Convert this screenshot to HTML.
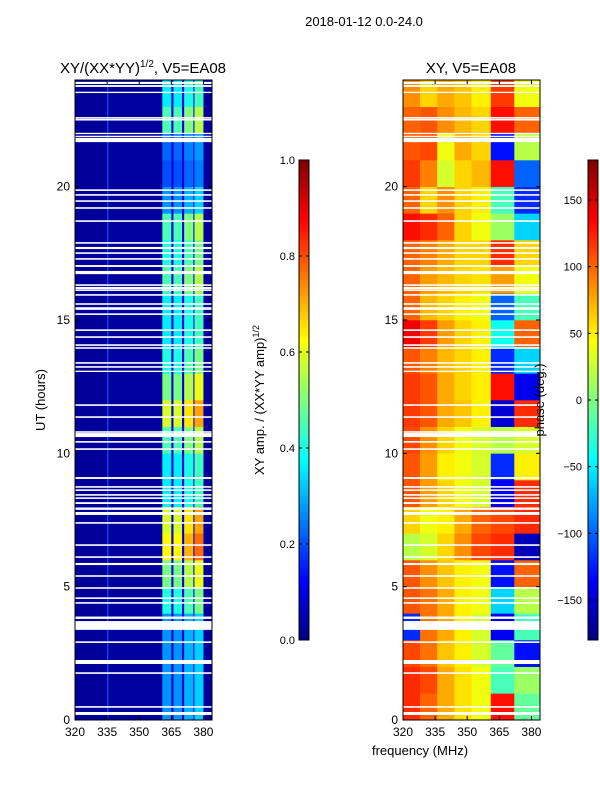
<!DOCTYPE html>
<html><head><meta charset="utf-8"><style>
body{margin:0;background:#fff;}
svg{display:block;font-family:"Liberation Sans",sans-serif;}
</style></head><body>
<svg id="fig" width="600" height="800">
<text x="364" y="26" font-size="13" text-anchor="middle">2018-01-12 0.0-24.0</text>
<text x="143" y="73" font-size="15" text-anchor="middle">XY/(XX*YY)<tspan font-size="10" dy="-6">1/2</tspan><tspan dy="6">, V5=EA08</tspan></text>
<text x="471" y="73" font-size="15" text-anchor="middle">XY, V5=EA08</text>
<text transform="translate(45,400) rotate(-90)" font-size="13" text-anchor="middle">UT (hours)</text>
<text x="420" y="755" font-size="13" text-anchor="middle">frequency (MHz)</text>
<text transform="translate(264,400) rotate(-90)" font-size="13" text-anchor="middle">XY amp. / (XX*YY amp)<tspan font-size="9" dy="-5">1/2</tspan></text>
<g id="leftPanel"></g>
<g id="rightPanel"></g>
<g id="cbars"></g>
<text transform="translate(544,400) rotate(-90)" font-size="13" text-anchor="middle">phase (deg.)</text>
</svg>
<script>
const hours = [0,1,2,3,4,5,6,7,8,9,10,11,12,13,14,15,16,17,18,19,20,21,22,23];
const ampColEdges = [320,335,335.6,360.8,365,366,370,371,375.3,375.8,380,384];
const ampColBase = [0.025,0.2,0.03,0.45,0.1,0.45,0.1,0.5,0.12,0.55,0.03];
const ampColIsBand = [0,0,0,1,0,1,0,1,0,1,0];
const ampRowFactor = [0.6,0.6,0.6,0.6,0.9,1.1,1.4,1.3,0.8,0.8,1.0,1.3,1.1,0.9,0.8,0.8,1.0,0.9,1.0,0.6,0.45,0.5,1.0,0.8];
const phaseColEdges = [320,328,336,344,352,361,372,384];
const phaseRows = [
[120,100,75,55,40,130,-10],
[120,110,75,55,40,-20,10],
[110,95,65,50,30,-10,-130],
[-120,95,75,50,30,-140,-20],
[105,95,75,50,40,-60,20],
[105,85,65,50,40,-130,100],
[20,30,60,85,110,120,-160],
[60,40,50,75,100,110,120],
[105,80,60,40,30,-140,120],
[105,80,50,40,30,-120,50],
[110,85,60,40,30,20,30],
[115,105,75,65,50,-150,120],
[115,105,75,60,50,130,-140],
[105,90,70,60,50,-120,-60],
[140,115,80,60,50,-40,100],
[100,70,60,50,40,-100,-20],
[100,80,70,60,55,80,40],
[100,90,75,60,60,120,60],
[130,120,100,60,40,10,-60],
[100,60,85,60,50,-20,-120],
[115,90,30,60,70,130,-100],
[105,110,40,75,60,-130,20],
[100,105,85,70,60,130,100],
[85,60,75,65,50,115,40]];
const gapStart = [23.85,23.74,23.51,22.55,22.48,21.97,21.86,21.67,19.84,19.66,19.43,19.17,18.68,17.86,17.66,17.48,17.26,16.99,16.72,16.28,16.16,16.09,15.91,15.57,15.42,15.38,15.19,14.59,14.33,14.03,13.92,13.36,13.21,13.05,11.78,11.33,10.77,10.61,10.4,10.13,9.04,8.71,8.59,8.41,8.29,8.1,7.92,7.88,7.69,7.36,6.53,6.08,5.81,5.37,4.92,4.54,4.36,3.83,3.79,3.38,2.89,2.1,1.73,0.46,0.19];
const gapLen = [0.08,0.07,0.05,0.06,0.06,0.05,0.05,0.16,0.06,0.06,0.06,0.06,0.06,0.06,0.08,0.06,0.06,0.07,0.12,0.06,0.08,0.06,0.06,0.06,0.06,0.06,0.06,0.06,0.06,0.06,0.06,0.06,0.06,0.05,0.06,0.06,0.06,0.15,0.06,0.06,0.07,0.06,0.06,0.06,0.06,0.07,0.05,0.05,0.11,0.06,0.06,0.06,0.08,0.06,0.06,0.06,0.06,0.05,0.05,0.33,0.06,0.15,0.06,0.06,0.11];
const xTicks = [320,335,350,365,380];
const yTicks = [0,5,10,15,20];
const ampTicks = [0.0,0.2,0.4,0.6,0.8,1.0];
const phaseTicks = [-150,-100,-50,0,50,100,150];

const NS="http://www.w3.org/2000/svg";
function jet(v){v=Math.max(0,Math.min(1,v));
 const c=t=>Math.round(255*Math.max(0,Math.min(1,1.5-Math.abs(t))));
 return `rgb(${c(4*v-3)},${c(4*v-2)},${c(4*v-1)})`;}
function mk(tag,attrs,parent){const e=document.createElementNS(NS,tag);for(const k in attrs)e.setAttribute(k,attrs[k]);parent.appendChild(e);return e;}
const yS=h=>720-h*(640/24);
function xS(x0){return f=>x0+(f-320)*(137/64);}

function drawPanel(g,x0,fill){
  const xs=xS(x0);
  fill(xs);
  for(let i=0;i<gapStart.length;i++){
    const r=mk('rect',{x:x0,y:yS(gapStart[i]+gapLen[i]),width:137,height:Math.max(1,gapLen[i]*640/24),fill:'#fff'},g);
    
    
  }
  mk('rect',{x:x0,y:80,width:137,height:640,fill:'none',stroke:'#000','stroke-width':1},g);
  xTicks.forEach(t=>{const x=xs(t);
    mk('line',{x1:x,x2:x,y1:720,y2:716,stroke:'#000'},g);
    mk('line',{x1:x,x2:x,y1:80,y2:84,stroke:'#000'},g);
    const tx=mk('text',{x:x,y:736,'font-size':12,'text-anchor':'middle'},g);tx.textContent=t;
    
    });
  yTicks.forEach(t=>{const y=yS(t);
    mk('line',{x1:x0,x2:x0+4,y1:y,y2:y,stroke:'#000'},g);
    mk('line',{x1:x0+137,x2:x0+133,y1:y,y2:y,stroke:'#000'},g);
    const tx=mk('text',{x:x0-5,y:y+4,'font-size':12,'text-anchor':'end'},g);tx.textContent=t;
    
    });
}
const L=document.getElementById('leftPanel');
drawPanel(L,75,xs=>{
  hours.forEach((h,i)=>{
    for(let j=0;j<ampColBase.length;j++){
      let v=ampColIsBand[j]?ampColBase[j]*ampRowFactor[i]:ampColBase[j];
      const r=mk('rect',{x:xs(ampColEdges[j]),y:yS(h+1),width:xs(ampColEdges[j+1])-xs(ampColEdges[j])+0.3,height:640/24+0.3,fill:jet(v)},L);
      
      
    }});
});
const R=document.getElementById('rightPanel');
drawPanel(R,403,xs=>{
  hours.forEach((h,i)=>{
    for(let j=0;j<phaseColEdges.length-1;j++){
      const v=(phaseRows[i][j]+180)/360;
      const r=mk('rect',{x:xs(phaseColEdges[j]),y:yS(h+1),width:xs(phaseColEdges[j+1])-xs(phaseColEdges[j])+0.3,height:640/24+0.3,fill:jet(v)},R);
      
      
    }});
});

const C=document.getElementById('cbars');
function colorbar(x,ticks,lo,hi,labelX,name,fmt){
  const g=mk('g',{},C);
  
  
  for(let i=0;i<240;i++){const v=1-(i+0.5)/240;
    mk('rect',{x:x,y:160+i*2,width:10,height:2.3,fill:jet(v)},g);}
  mk('rect',{x:x,y:160,width:10,height:480,fill:'none',stroke:'#000'},g);
  ticks.forEach(t=>{const y=640-(t-lo)/(hi-lo)*480;
    mk('line',{x1:x,x2:x+3,y1:y,y2:y,stroke:'#000'},g);
    mk('line',{x1:x+10,x2:x+7,y1:y,y2:y,stroke:'#000'},g);
    const tx=mk('text',{x:labelX,y:y+4,'font-size':11,'text-anchor':'end'},g);tx.textContent=fmt(t);
    
    });
}
colorbar(299,ampTicks,0,1,295,'amp-colorbar',t=>t.toFixed(1));
colorbar(588,phaseTicks,-180,180,582,'phase-colorbar',t=>t<0?'\u2212'+(-t):''+t);
</script>
</body></html>
